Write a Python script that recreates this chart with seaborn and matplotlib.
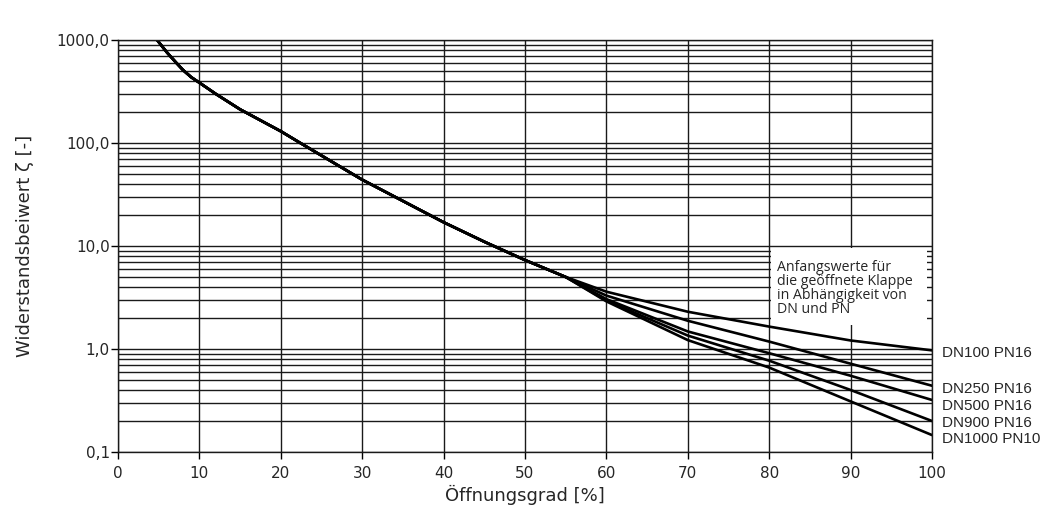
import numpy as np
import pandas as pd
import seaborn as sns
import matplotlib.pyplot as plt
from matplotlib.ticker import LogLocator, FuncFormatter, NullFormatter, MultipleLocator
from matplotlib.patches import Rectangle

# shared part of the curve (all sizes identical up to ~55 %)
main_x = [4.8, 6, 7, 8, 9, 10, 12, 15, 20, 22.4, 30, 40, 45, 50, 55]
main_y = [1000, 760, 620, 510, 435, 385, 300, 212, 130, 100, 44, 17, 11, 7.3, 5.0]

# branches per nominal size
branch_x = [60, 70, 80, 90, 100]
dn100_pn16 = [3.6, 2.3, 1.65, 1.21, 0.97]
dn250_pn16 = [3.3, 1.88, 1.18, 0.72, 0.44]
dn500_pn16 = [3.05, 1.48, 0.91, 0.55, 0.32]
dn900_pn16 = [2.95, 1.35, 0.77, 0.40, 0.20]
dn1000_pn10 = [2.9, 1.22, 0.66, 0.31, 0.146]

series_names = ["DN100 PN16", "DN250 PN16", "DN500 PN16", "DN900 PN16", "DN1000 PN10"]
branches = [dn100_pn16, dn250_pn16, dn500_pn16, dn900_pn16, dn1000_pn10]

y_ticks = [0.1, 1, 10, 100, 1000]
x_ticks = list(range(0, 101, 10))

note = "Anfangswerte für\ndie geöffnete Klappe\nin Abhängigkeit von\nDN und PN"

rows = []
for name, vals in zip(series_names, branches):
    for xv, yv in zip(main_x + branch_x, main_y + vals):
        rows.append({"x": xv, "y": yv, "series": name})
df = pd.DataFrame(rows)

sns.set_style("ticks")
plt.rcParams['font.family'] = ['DejaVu Sans']

fig = plt.figure(figsize=(10.43, 5.11), dpi=100)
ax = fig.add_axes([118 / 1043, 1 - 452 / 511, (932 - 118) / 1043, (452 - 40) / 511])

ax.set_yscale('log')
ax.set_xlim(0, 100)
ax.set_ylim(0.1, 1000)

# grid: every 10 % vertically, every log subdivision horizontally
ax.xaxis.set_major_locator(MultipleLocator(10))
ax.yaxis.set_major_locator(LogLocator(base=10, numticks=10))
ax.yaxis.set_minor_locator(LogLocator(base=10, subs=np.arange(2, 10), numticks=20))
ax.yaxis.set_minor_formatter(NullFormatter())
ax.yaxis.set_major_formatter(FuncFormatter(lambda v, p: f"{v:.1f}".replace('.', ',')))
ax.grid(True, which='major', axis='x', color='#1a1a1a', lw=1.0)
ax.grid(True, which='both', axis='y', color='#1a1a1a', lw=1.0)
ax.set_axisbelow(True)

# white box for the note, hides the grid behind it
ax.add_patch(Rectangle((80.25, 1.72), 19.1, 9.6 - 1.72, facecolor='white',
                       edgecolor='none', zorder=1))
ax.text(81.0, 7.3, note, fontsize=10.2, family='Open Sans', va='top', ha='left',
        linespacing=0.92, zorder=3)

sns.lineplot(data=df, x='x', y='y', hue='series', palette=['black'] * 5,
             legend=False, estimator=None, sort=False, lw=1.9, ax=ax, zorder=2)

offsets = [-2, -2.5, -4.5, -1.5, -2.5]
for name, vals, off in zip(series_names, branches, offsets):
    ax.annotate(name, xy=(100, vals[-1]), xytext=(7, off), textcoords='offset points',
                fontsize=11, family='Liberation Sans', va='center', ha='left',
                annotation_clip=False)

ax.set_xticks(x_ticks)
ax.set_yticks(y_ticks)
ax.tick_params(axis='both', which='major', direction='out', length=5, width=1.0,
               labelsize=11, color='black')
ax.tick_params(axis='y', which='major', pad=1)
ax.tick_params(axis='y', which='minor', length=0)
ax.tick_params(axis='x', pad=5)

for s in ax.spines.values():
    s.set_color('#1a1a1a')
    s.set_linewidth(1.0)

ax.set_xlabel('Öffnungsgrad [%]', fontsize=13, labelpad=3)
ax.set_ylabel('Widerstandsbeiwert ζ [-]', fontsize=13, labelpad=16)

fig.savefig('out.png', dpi=100, facecolor='white')
